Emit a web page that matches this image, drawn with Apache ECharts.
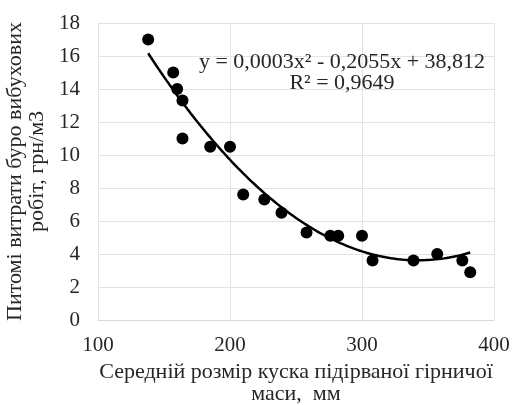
<!DOCTYPE html>
<html><head><meta charset="utf-8">
<script src="https://cdn.jsdelivr.net/npm/echarts@6/dist/echarts.min.js"></script>
<style>html,body{margin:0;padding:0;background:#fff}#c{width:512px;height:405px}</style>
</head><body><div id="c"></div>
<script>
const sizeX = [138,157,160,164,164,185,200,210,226,239,258,276,282,300,308,339,357,376,382];
const costY = [17.0,15.0,14.0,13.3,11.0,10.5,10.5,7.6,7.3,6.5,5.3,5.1,5.1,5.1,3.6,3.6,4.0,3.6,2.9];
const trendCoef = [0.0003, -0.2055, 38.812]; // from the equation label
const trendRange = [138, 382];
const yTicks = [0,2,4,6,8,10,12,14,16,18];
const xTicks = [100,200,300,400];
const eqLine1 = 'y = 0,0003x² - 0,2055x + 38,812';
const eqLine2 = 'R² = 0,9649';
const xTitle = 'Середній розмір куска підірваної гірничої\nмаси,  мм';
const yTitle = 'Питомі витрати буро вибухових\nробіт, грн/м3';

const trend = [];
for (let x = trendRange[0]; x <= trendRange[1]; x += 2) {
  trend.push([x, trendCoef[0]*x*x + trendCoef[1]*x + trendCoef[2]]);
}
const font = 'Liberation Serif';
const txt = '#262626';
const chart = echarts.init(document.getElementById('c'));
chart.setOption({
  animation: false,
  grid: {left: 98, right: 18, top: 23, bottom: 85, containLabel: false, outerBoundsMode: 'none'},
  xAxis: {
    type: 'value', min: xTicks[0], max: xTicks[xTicks.length-1], interval: 100,
    axisLine: {show: true, lineStyle: {color: '#d9d9d9', width: 1}},
    axisTick: {show: false},
    splitLine: {show: true, lineStyle: {color: '#e3e3e3', width: 1}},
    axisLabel: {fontFamily: font, fontSize: 21, color: txt, margin: 15},
    name: xTitle, nameLocation: 'middle', nameGap: 41,
    nameTextStyle: {fontFamily: font, fontSize: 22, color: txt, lineHeight: 22}
  },
  yAxis: {
    type: 'value', min: 0, max: 18, interval: 2,
    axisLine: {show: false},
    axisTick: {show: false},
    splitLine: {show: true, lineStyle: {color: '#e3e3e3', width: 1}},
    axisLabel: {fontFamily: font, fontSize: 21, color: txt, margin: 18},
    name: yTitle, nameLocation: 'middle', nameGap: 50,
    nameTextStyle: {fontFamily: font, fontSize: 22, color: txt, lineHeight: 22}
  },
  graphic: [
    {type: 'text', x: 342, y: 52, z: 10,
     style: {text: eqLine1 + '\n' + eqLine2, textAlign: 'center', textVerticalAlign: 'top',
             font: '22px "Liberation Serif"', fill: txt, lineHeight: 21}}
  ],
  series: [
    {type: 'line', data: trend, showSymbol: false, smooth: false,
     lineStyle: {color: '#000', width: 2.5}, z: 2},
    {type: 'scatter', data: sizeX.map((x, i) => [x, costY[i]]), symbolSize: 12,
     itemStyle: {color: '#000', opacity: 1}, z: 3}
  ]
});
</script></body></html>
